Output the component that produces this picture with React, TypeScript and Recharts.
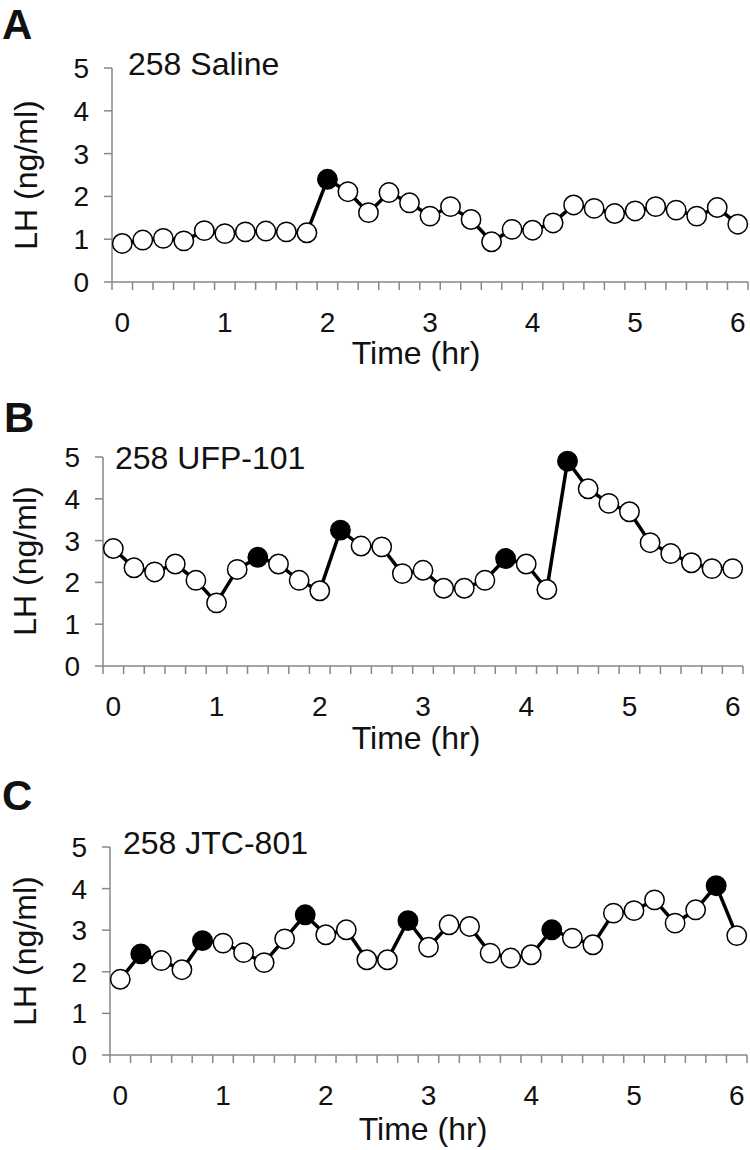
import { LineChart, Line, XAxis, YAxis } from "recharts"

// sampling times (hr), one blood sample every 12 min
const times = [
    0, 0.2, 0.4, 0.6, 0.8, 1.0, 1.2, 1.4, 1.6, 1.8, 2.0, 2.2, 2.4, 2.6, 2.8, 3.0,
    3.2, 3.4, 3.6, 3.8, 4.0, 4.2, 4.4, 4.6, 4.8, 5.0, 5.2, 5.4, 5.6, 5.8, 6.0,
]

// LH (ng/ml) per animal / treatment
const salineLH = [
    0.9, 0.98, 1.02, 0.96, 1.2, 1.13, 1.17, 1.19, 1.17, 1.15, 2.4, 2.11, 1.62, 2.09, 1.85, 1.54,
    1.76, 1.46, 0.94, 1.23, 1.21, 1.38, 1.8, 1.72, 1.6, 1.66, 1.76, 1.68, 1.54, 1.74, 1.35,
]
const ufpLH = [
    2.81, 2.35, 2.25, 2.44, 2.05, 1.51, 2.31, 2.6, 2.44, 2.05, 1.8, 3.25, 2.87, 2.85, 2.21, 2.29,
    1.86, 1.86, 2.05, 2.57, 2.44, 1.83, 4.9, 4.24, 3.89, 3.69, 2.95, 2.69, 2.47, 2.33, 2.33,
]
const jtcLH = [
    1.82, 2.43, 2.27, 2.05, 2.75, 2.69, 2.46, 2.22, 2.79, 3.37, 2.89, 3.01, 2.29, 2.29, 3.23, 2.59,
    3.13, 3.09, 2.45, 2.33, 2.41, 3.01, 2.81, 2.65, 3.41, 3.47, 3.73, 3.17, 3.49, 4.07, 2.87,
]

// times of detected LH pulse peaks (filled symbols)
const salinePulses = [2.0]
const ufpPulses = [1.4, 2.2, 3.8, 4.4]
const jtcPulses = [0.2, 0.8, 1.8, 2.8, 4.2, 5.8]

const hourTicks = [0, 1, 2, 3, 4, 5, 6]
const lhTicks = [0, 1, 2, 3, 4, 5]

const FONT = '"Liberation Sans", Arial, sans-serif'
const AXIS = "#878787"

// excel-style category axis: tick marks sit between samples
const half = (times[1] - times[0]) / 2
const boundaries = [...times.map((t) => t - half), times[times.length - 1] + half]

function TimeTick(props: any) {
    const { x, y, payload } = props
    const v = payload.value
    if (hourTicks.includes(v)) {
        return (
            <text x={x} y={y + 50} textAnchor="middle" fontSize={28} fill="#111" fontFamily={FONT}>
                {v}
            </text>
        )
    }
    return <line x1={x} x2={x} y1={y} y2={y + 8} stroke={AXIS} strokeWidth={1.5} />
}

function makeDot(pulses: number[]) {
    return (props: any) => {
        const { cx, cy, payload, index } = props
        const filled = pulses.includes(payload.t)
        return (
            <circle
                key={`dot-${index}`}
                cx={cx}
                cy={cy}
                r={9.7}
                fill={filled ? "#000" : "#fff"}
                stroke="#000"
                strokeWidth={1.5}
            />
        )
    }
}

interface PanelProps {
    top: number
    height: number
    plotLeft: number
    plotRight: number
    plotTop: number
    plotBottom: number
    values: number[]
    pulses: number[]
}

function Panel({ top, height, plotLeft, plotRight, plotTop, plotBottom, values, pulses }: PanelProps) {
    const data = times.map((t, i) => ({ t, lh: values[i] }))
    return (
        <div style={{ position: "absolute", left: 0, top, width: 750, height }}>
            <LineChart
                width={750}
                height={height}
                data={data}
                margin={{ top: plotTop - top, right: 750 - plotRight, left: 0, bottom: 0 }}
            >
                <XAxis
                    dataKey="t"
                    type="number"
                    domain={[boundaries[0], boundaries[boundaries.length - 1]]}
                    ticks={[...boundaries, ...hourTicks]}
                    interval={0}
                    tick={<TimeTick />}
                    tickLine={false}
                    tickSize={0}
                    tickMargin={0}
                    height={top + height - plotBottom}
                    axisLine={{ stroke: AXIS, strokeWidth: 1.5 }}
                />
                <YAxis
                    type="number"
                    domain={[0, 5]}
                    ticks={lhTicks}
                    interval={0}
                    width={plotLeft}
                    tickSize={8}
                    tickMargin={15}
                    tick={{ fontSize: 28, fill: "#111", fontFamily: FONT }}
                    tickLine={{ stroke: AXIS, strokeWidth: 1.5 }}
                    axisLine={{ stroke: AXIS, strokeWidth: 1.5 }}
                />
                <Line
                    type="linear"
                    dataKey="lh"
                    stroke="#000"
                    strokeWidth={3.5}
                    dot={makeDot(pulses)}
                    isAnimationActive={false}
                />
            </LineChart>
        </div>
    )
}

export default function App() {
    const txt = { fontFamily: FONT, fill: "#111" }
    return (
        <div style={{ position: "absolute", left: 0, top: 0, width: 750, height: 1150, background: "#fff" }}>
            <Panel top={0} height={380} plotLeft={112} plotRight={748} plotTop={68} plotBottom={282} values={salineLH} pulses={salinePulses} />
            <Panel top={385} height={380} plotLeft={103} plotRight={743} plotTop={457} plotBottom={666} values={ufpLH} pulses={ufpPulses} />
            <Panel top={770} height={380} plotLeft={110} plotRight={747} plotTop={847} plotBottom={1055} values={jtcLH} pulses={jtcPulses} />
            <svg width={750} height={1150} style={{ position: "absolute", left: 0, top: 0, pointerEvents: "none" }}>
                <text x={2} y={39} fontSize={42} fontWeight="bold" {...txt}>A</text>
                <text x={128} y={75} fontSize={32} {...txt}>258 Saline</text>
                <text x={37} y={175} fontSize={32} textAnchor="middle" transform="rotate(-90 37 175)" {...txt}>LH (ng/ml)</text>
                <text x={416} y={364} fontSize={32} textAnchor="middle" {...txt}>Time (hr)</text>

                <text x={4} y={432} fontSize={42} fontWeight="bold" {...txt}>B</text>
                <text x={115} y={469} fontSize={32} {...txt}>258 UFP-101</text>
                <text x={36} y={561} fontSize={32} textAnchor="middle" transform="rotate(-90 36 561)" {...txt}>LH (ng/ml)</text>
                <text x={416} y={749} fontSize={32} textAnchor="middle" {...txt}>Time (hr)</text>

                <text x={2} y={810} fontSize={42} fontWeight="bold" {...txt}>C</text>
                <text x={123} y={854} fontSize={32} {...txt}>258 JTC-801</text>
                <text x={36} y={951} fontSize={32} textAnchor="middle" transform="rotate(-90 36 951)" {...txt}>LH (ng/ml)</text>
                <text x={423} y={1140} fontSize={32} textAnchor="middle" {...txt}>Time (hr)</text>
            </svg>
        </div>
    )
}
